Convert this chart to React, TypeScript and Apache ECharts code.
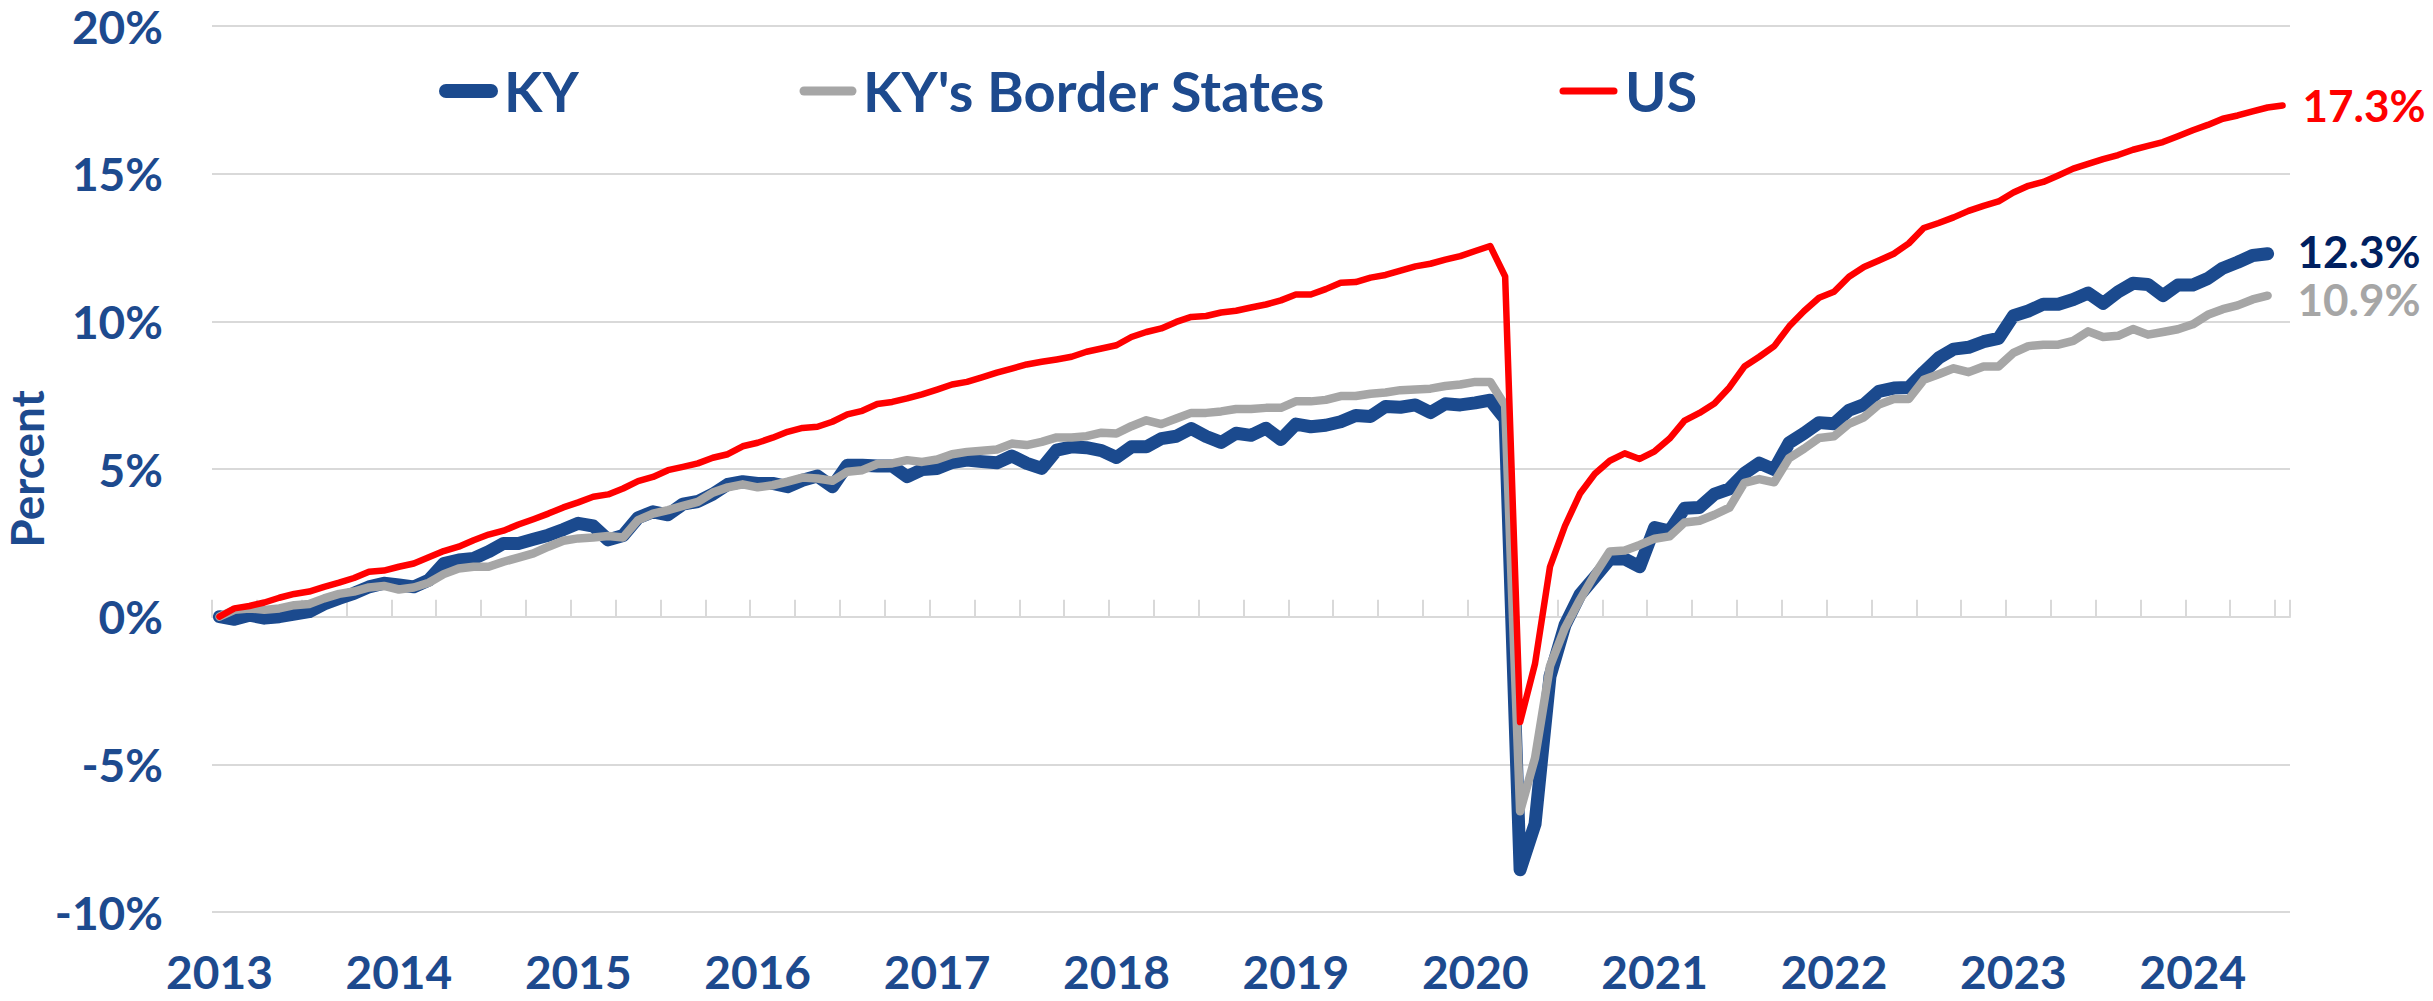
import React, { useEffect, useRef } from "react";
import * as echarts from "echarts";

// ---- data ----
const YEARS = [2013, 2014, 2015, 2016, 2017, 2018, 2019, 2020, 2021, 2022, 2023, 2024];
const MONTHS = ["Jan", "Feb", "Mar", "Apr", "May", "Jun", "Jul", "Aug", "Sep", "Oct", "Nov", "Dec"];
const LAST_MONTH = "Jul 2024";

// Cumulative employment growth since Jan 2013 (percent)
const KY = [
  0.0, -0.09, 0.05, -0.05, 0.0, 0.09, 0.17, 0.43, 0.62, 0.79, 1.01, 1.13,
  1.07, 1.01, 1.24, 1.8, 1.92, 1.97, 2.2, 2.48, 2.48, 2.62, 2.76, 2.95,
  3.16, 3.07, 2.6, 2.75, 3.35, 3.55, 3.45, 3.81, 3.9, 4.15, 4.48, 4.57,
  4.51, 4.51, 4.4, 4.62, 4.76, 4.4, 5.13, 5.13, 5.1, 5.1, 4.74, 4.98,
  5.02, 5.22, 5.3, 5.25, 5.21, 5.44, 5.19, 5.02, 5.64, 5.75, 5.72, 5.62,
  5.39, 5.75, 5.75, 6.03, 6.11, 6.37, 6.1, 5.9, 6.21, 6.14, 6.38, 6.0,
  6.52, 6.43, 6.48, 6.6, 6.81, 6.78, 7.12, 7.09, 7.17, 6.91, 7.21, 7.17,
  7.24, 7.33, 6.69, -8.57, -7.02, -2.02, -0.29, 0.74, 1.34, 1.95, 1.95, 1.69,
  3.02, 2.9, 3.67, 3.7, 4.15, 4.33, 4.85, 5.2, 4.98, 5.89, 6.21, 6.57,
  6.53, 6.99, 7.18, 7.63, 7.74, 7.76, 8.28, 8.76, 9.06, 9.12, 9.31, 9.42,
  10.19, 10.35, 10.58, 10.58, 10.74, 10.96, 10.61, 11.0, 11.29, 11.25, 10.87, 11.23,
  11.23, 11.45, 11.8, 12.0, 12.23, 12.29,
];

const BORDER = [
  0.0, 0.23, 0.28, 0.23, 0.28, 0.39, 0.43, 0.62, 0.77, 0.85, 0.99, 1.04,
  0.92, 0.99, 1.15, 1.44, 1.63, 1.69, 1.69, 1.86, 2.0, 2.14, 2.37, 2.57,
  2.65, 2.68, 2.73, 2.68, 3.27, 3.49, 3.61, 3.75, 3.89, 4.2, 4.38, 4.48,
  4.38, 4.45, 4.57, 4.71, 4.68, 4.6, 4.91, 4.96, 5.17, 5.19, 5.3, 5.24,
  5.32, 5.5, 5.58, 5.62, 5.66, 5.86, 5.81, 5.92, 6.07, 6.07, 6.11, 6.23,
  6.2, 6.45, 6.65, 6.52, 6.71, 6.9, 6.9, 6.95, 7.03, 7.03, 7.07, 7.07,
  7.29, 7.29, 7.34, 7.47, 7.47, 7.55, 7.59, 7.67, 7.69, 7.72, 7.81, 7.86,
  7.95, 7.95, 7.15, -6.59, -4.78, -1.67, -0.38, 0.57, 1.43, 2.21, 2.24, 2.43,
  2.64, 2.72, 3.19, 3.25, 3.45, 3.69, 4.53, 4.66, 4.55, 5.37, 5.69, 6.05,
  6.11, 6.53, 6.75, 7.18, 7.37, 7.37, 8.02, 8.21, 8.41, 8.28, 8.47, 8.47,
  8.93, 9.16, 9.21, 9.21, 9.34, 9.66, 9.47, 9.51, 9.74, 9.55, 9.64, 9.73,
  9.9, 10.22, 10.41, 10.54, 10.74, 10.87,
];

const US = [
  0.0, 0.28, 0.36, 0.48, 0.64, 0.77, 0.85, 1.01, 1.15, 1.31, 1.52, 1.56,
  1.69, 1.8, 2.01, 2.22, 2.37, 2.59, 2.78, 2.91, 3.12, 3.3, 3.49, 3.7,
  3.87, 4.06, 4.14, 4.34, 4.59, 4.73, 4.96, 5.07, 5.19, 5.38, 5.5, 5.77,
  5.89, 6.06, 6.26, 6.39, 6.43, 6.6, 6.85, 6.97, 7.2, 7.27, 7.39, 7.53,
  7.69, 7.86, 7.95, 8.1, 8.26, 8.4, 8.54, 8.63, 8.71, 8.8, 8.97, 9.08,
  9.19, 9.47, 9.64, 9.76, 9.98, 10.15, 10.18, 10.3, 10.36, 10.47, 10.57, 10.71,
  10.91, 10.91, 11.09, 11.31, 11.33, 11.48, 11.57, 11.72, 11.86, 11.95, 12.09, 12.21,
  12.38, 12.55, 11.52, -3.57, -1.59, 1.69, 3.07, 4.16, 4.84, 5.28, 5.53, 5.34,
  5.6, 6.03, 6.64, 6.9, 7.22, 7.76, 8.47, 8.8, 9.16, 9.83, 10.35, 10.8,
  11.0, 11.51, 11.84, 12.06, 12.29, 12.64, 13.16, 13.33, 13.52, 13.74, 13.91, 14.06,
  14.36, 14.59, 14.72, 14.94, 15.17, 15.33, 15.49, 15.63, 15.81, 15.94, 16.07, 16.27,
  16.47, 16.65, 16.86, 16.97, 17.11, 17.24, 17.31,
];

const Y_MIN = -10;
const Y_MAX = 20;
const Y_STEP = 5;

const SERIES_NAMES = ["KY", "KY's Border States", "US"];

const allMonths = YEARS.flatMap((y) => MONTHS.map((m) => `${m} ${y}`));
const CATEGORIES = allMonths.slice(0, allMonths.indexOf(LAST_MONTH) + 1);

// ---- styles ----
const FONT = "Lato";
const AXIS_BLUE = "#1D4A8E";
const KY_COLOR = "#1B4A8E";
const BORDER_COLOR = "#A6A6A6";
const US_COLOR = "#FF0000";
const GRID_COLOR = "#D9D9D9";

export default function App() {
  const ref = useRef<HTMLDivElement>(null);

  useEffect(() => {
    if (!ref.current) return;
    const chart = echarts.init(ref.current, null, { renderer: "svg" });

    const endLabel = (color: string, distance: number, dy: number) => ({
      show: true,
      formatter: (p: any) => `${Number(p.value).toFixed(1)}%`,
      color,
      fontSize: 44,
      lineHeight: 38,
      fontWeight: "bold",
      fontFamily: FONT,
      distance,
      offset: [0, dy],
    });

    const legendItem = (x1: number, x2: number, w: number, color: string, tx: number, text: string) => [
      {
        type: "line",
        shape: { x1, y1: 91, x2, y2: 91 },
        style: { stroke: color, lineWidth: w, lineCap: "round" },
        silent: true,
      },
      {
        type: "text",
        x: tx,
        y: 90,
        style: {
          text,
          fill: AXIS_BLUE,
          fontSize: 56,
          fontWeight: "bold",
          fontFamily: FONT,
          align: "left",
          verticalAlign: "middle",
        },
        silent: true,
      },
    ];

    chart.setOption({
      animation: false,
      backgroundColor: "#ffffff",
      grid: { left: 212, right: 143, top: 26, bottom: 89, containLabel: false },
      xAxis: [
        {
          type: "category",
          data: CATEGORIES,
          boundaryGap: true,
          axisLine: { show: true, onZero: true, lineStyle: { color: GRID_COLOR, width: 2 } },
          axisTick: {
            show: true,
            interval: 2,
            inside: true,
            length: 17,
            lineStyle: { color: GRID_COLOR, width: 2 },
          },
          axisLabel: { show: false },
          splitLine: { show: false },
        },
        {
          type: "category",
          data: CATEGORIES,
          position: "bottom",
          boundaryGap: true,
          axisLine: { show: false, onZero: false },
          axisTick: { show: false },
          splitLine: { show: false },
          axisLabel: {
            show: true,
            interval: 11,
            formatter: (v: string) => v.slice(-4),
            color: AXIS_BLUE,
            fontSize: 46,
            lineHeight: 42,
            fontWeight: "bold",
            fontFamily: FONT,
            margin: 38,
          },
        },
      ],
      yAxis: {
        type: "value",
        min: Y_MIN,
        max: Y_MAX,
        interval: Y_STEP,
        axisLine: { show: false },
        axisTick: { show: false },
        splitLine: { show: true, lineStyle: { color: GRID_COLOR, width: 2 } },
        axisLabel: {
          formatter: "{value}%",
          color: AXIS_BLUE,
          fontSize: 46,
          fontWeight: "bold",
          fontFamily: FONT,
          margin: 49,
        },
      },
      series: [
        {
          name: SERIES_NAMES[0],
          type: "line",
          data: KY,
          xAxisIndex: 0,
          symbol: "none",
          showSymbol: false,
          lineStyle: { color: KY_COLOR, width: 13, cap: "round", join: "round" },
          itemStyle: { color: KY_COLOR },
          endLabel: endLabel("#002060", 30, -3),
          z: 2,
        },
        {
          name: SERIES_NAMES[1],
          type: "line",
          data: BORDER,
          xAxisIndex: 0,
          symbol: "none",
          showSymbol: false,
          lineStyle: { color: BORDER_COLOR, width: 8.5, cap: "round", join: "round" },
          itemStyle: { color: BORDER_COLOR },
          endLabel: endLabel(BORDER_COLOR, 30, 3),
          z: 3,
        },
        {
          name: SERIES_NAMES[2],
          type: "line",
          data: US,
          xAxisIndex: 0,
          symbol: "none",
          showSymbol: false,
          lineStyle: { color: US_COLOR, width: 6.5, cap: "round", join: "round" },
          itemStyle: { color: US_COLOR },
          endLabel: endLabel(US_COLOR, 20, 0),
          z: 4,
        },
      ],
      graphic: [
        ...legendItem(446, 491, 14, KY_COLOR, 504, SERIES_NAMES[0]),
        ...legendItem(804, 852, 9, BORDER_COLOR, 863, SERIES_NAMES[1]),
        ...legendItem(1563, 1614, 7, US_COLOR, 1625, SERIES_NAMES[2]),
        {
          type: "text",
          x: 26,
          y: 469,
          rotation: Math.PI / 2,
          style: {
            text: "Percent",
            fill: AXIS_BLUE,
            fontSize: 46,
            lineHeight: 44,
            fontWeight: "bold",
            fontFamily: FONT,
            align: "center",
            verticalAlign: "middle",
          },
          silent: true,
        },
      ],
    });

    return () => chart.dispose();
  }, []);

  return (
    <div
      ref={ref}
      style={{ position: "fixed", left: 0, top: 0, width: 2433, height: 1001, background: "#fff" }}
    />
  );
}
